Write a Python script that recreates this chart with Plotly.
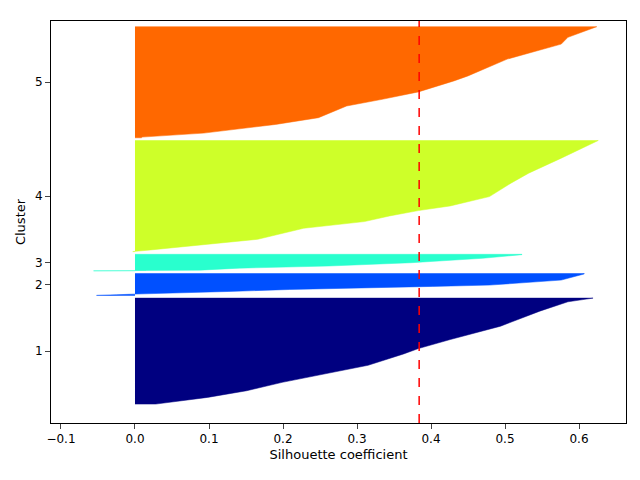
import plotly.graph_objects as go

clusters = ["1", "2", "3", "4", "5"]
colors = ["#000080", "#0050ff", "#29ffce", "#ceff29", "#ff6800"]
sizes = [392, 81, 61, 411, 411]
# sorted silhouette values (edge profile), position as fraction of cluster height
fracs = [
    [0, .063, .126, .205, .284, .366, .473, .524, .609, .735, .877, .965, 1.0],
    [0, .03, .06, .09, .18, .27, .35, .41, .47, .58, .70, .98, 1.0],
    [0, .03, .04, .16, .29, .49, .59, .76, .98, 1.0],
    [0, .015, .06, .111, .21, .27, .321, .369, .411, .495, .616, .706, .841, .931, .997, 1.0],
    [0, .006, .042, .12, .181, .286, .346, .413, .512, .557, .708, .783, .843, .904, .994, 1.0],
]
values = [
    [.028, .098, .151, .199, .257, .315, .363, .383, .426, .494, .547, .585, .619],
    [-.052, -.025, .0, .038, .127, .209, .349, .402, .479, .527, .576, .607, .607],
    [-.056, -.015, .088, .141, .262, .373, .412, .470, .523, .523],
    [-.003, .021, .093, .166, .228, .310, .344, .383, .426, .479, .508, .532, .576, .605, .626, .626],
    [.009, .009, .093, .190, .248, .286, .334, .383, .431, .450, .503, .542, .576, .585, .624, .624],
]
avg_score = 0.384

fig = go.Figure()
y_lower = 10
ticks = []
for name, col, n, fr, v in zip(clusters, colors, sizes, fracs, values):
    ys = [y_lower + f * n for f in fr]
    xs = [0] + v + [0]
    yy = [ys[0]] + ys + [ys[-1]]
    fig.add_trace(go.Scatter(x=xs, y=yy, fill="toself", fillcolor=col, mode="lines",
                             line=dict(color=col, width=0.5), showlegend=False))
    ticks.append(y_lower + 0.5 * n)
    y_lower += n + 10

fig.add_shape(type="line", x0=avg_score, x1=avg_score, y0=0, y1=1, yref="paper",
              line=dict(color="red", width=1.5, dash="dash"))

ax = dict(showline=True, linecolor="black", mirror=True, ticks="outside", showgrid=False,
          zeroline=False, automargin=False, tickfont=dict(size=12, color="black"),
          title_font=dict(size=13, color="black"))
fig.update_layout(
    width=640, height=480, plot_bgcolor="white", paper_bgcolor="white",
    margin=dict(l=43, r=22, t=13, b=65),
    font=dict(family="DejaVu Sans", color="black"),
    xaxis=dict(ax, range=[-0.1135, 0.6635], tickvals=[-0.1, 0, 0.1, 0.2, 0.3, 0.4, 0.5, 0.6],
               ticktext=["−0.1", "0.0", "0.1", "0.2", "0.3", "0.4", "0.5", "0.6"],
               title=dict(text="Silhouette coefficient", standoff=4)),
    yaxis=dict(ax, range=[-60, 1427], tickvals=ticks, ticktext=clusters,
               title=dict(text="Cluster", standoff=6)),
)
fig.write_html("out.html")
